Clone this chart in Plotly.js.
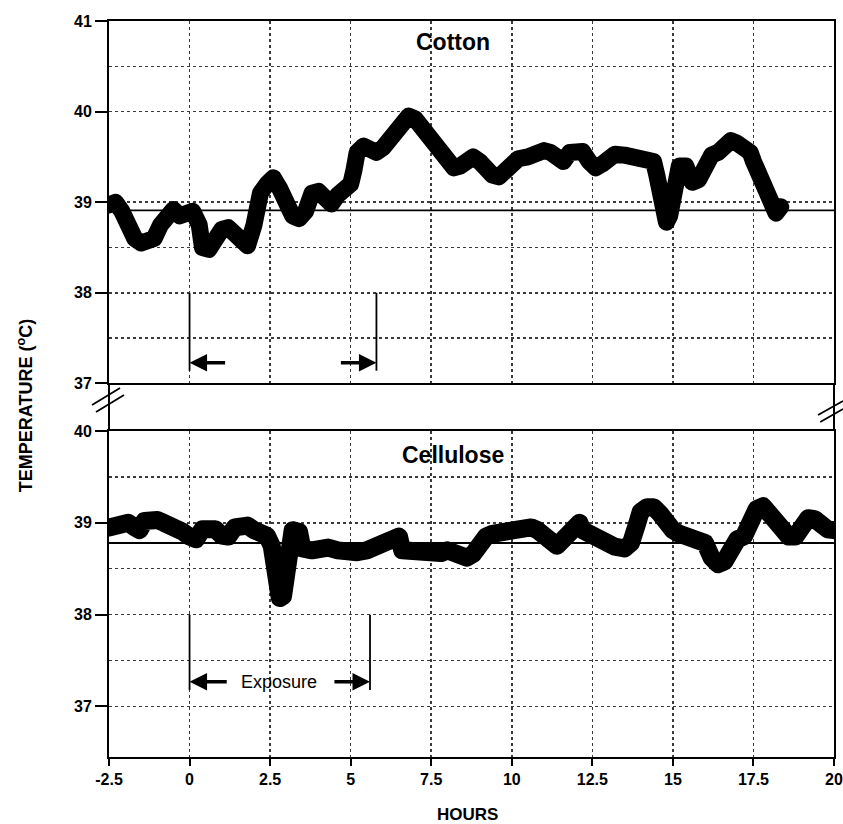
<!DOCTYPE html>
<html>
<head>
<meta charset="utf-8">
<script src="https://cdn.plot.ly/plotly-3.0.1.min.js"></script>
<style>
  html, body { margin: 0; padding: 0; background: #fff; }
  #chart { width: 843px; height: 824px; }
  .scatterlayer .js-line { stroke-linejoin: round !important; stroke-linecap: round !important; }
</style>
</head>
<body>
<div id="chart"></div>
<script>
// ---- Data ----
const xTickVals = [-2.5, 0, 2.5, 5, 7.5, 10, 12.5, 15, 17.5, 20];
const xTickText = ['-2.5', '0', '2.5', '5', '7.5', '10', '12.5', '15', '17.5', '20'];

const cottonTickVals = [37, 38, 39, 40, 41];
const celluloseTickVals = [37, 38, 39, 40];

const cottonHours = [-2.5,-2.3,-2.1,-1.9,-1.7,-1.5,-1.3,-1.1,-0.9,-0.7,-0.5,-0.3,-0.1,0.1,0.3,0.4,0.6,0.8,1.0,1.2,1.4,1.6,1.8,2.0,2.2,2.4,2.6,2.8,3.0,3.2,3.4,3.6,3.8,4.0,4.2,4.4,4.6,4.8,5.0,5.1,5.2,5.4,5.6,5.8,6.0,6.2,6.4,6.6,6.8,7.0,7.2,7.4,7.6,7.8,8.0,8.2,8.4,8.6,8.8,9.0,9.2,9.4,9.6,9.8,10.0,10.2,10.5,10.8,11.0,11.2,11.4,11.6,11.8,12.0,12.2,12.4,12.6,12.8,13.0,13.2,13.5,13.8,14.0,14.2,14.4,14.5,14.6,14.7,14.8,14.9,15.0,15.1,15.2,15.4,15.6,15.8,16.0,16.2,16.4,16.6,16.8,17.0,17.2,17.4,17.5,17.7,17.9,18.0,18.2,18.35];
const cottonTemp = [38.97,39.0,38.9,38.7,38.6,38.55,38.58,38.6,38.75,38.88,38.92,38.85,38.88,38.9,38.75,38.5,38.48,38.6,38.7,38.72,38.65,38.62,38.52,38.75,39.1,39.2,39.27,39.15,38.95,38.85,38.82,38.9,39.1,39.12,39.05,38.98,39.08,39.15,39.2,39.35,39.55,39.62,39.58,39.55,39.6,39.7,39.75,39.9,39.95,39.92,39.82,39.78,39.7,39.55,39.42,39.38,39.4,39.45,39.5,39.45,39.35,39.3,39.28,39.35,39.45,39.48,39.5,39.55,39.57,39.55,39.48,39.45,39.55,39.57,39.56,39.45,39.38,39.42,39.48,39.53,39.52,39.5,39.48,39.5,39.45,39.3,39.05,38.85,38.78,38.85,39.0,39.3,39.4,39.4,39.22,39.25,39.45,39.52,39.55,39.65,39.68,39.65,39.6,39.55,39.45,39.25,39.15,39.0,38.88,38.95];

const celluloseHours = [-2.5,-2.3,-2.1,-1.9,-1.7,-1.55,-1.4,-1.2,-1.0,-0.8,-0.6,-0.4,-0.2,0.0,0.2,0.4,0.6,0.8,1.0,1.2,1.4,1.6,1.8,2.0,2.2,2.4,2.55,2.7,2.8,2.9,3.0,3.05,3.2,3.4,3.5,3.8,4.0,4.3,4.6,4.9,5.2,5.5,5.8,6.0,6.2,6.4,6.5,6.6,7.0,7.4,7.8,8.0,8.2,8.4,8.6,8.8,9.0,9.2,9.4,9.6,9.8,10.0,10.2,10.4,10.6,10.8,11.0,11.2,11.4,11.6,11.8,12.0,12.1,12.2,12.4,12.6,12.8,13.0,13.2,13.5,13.7,13.9,14.0,14.2,14.4,14.6,14.8,15.0,15.2,15.5,15.8,16.0,16.2,16.4,16.6,16.8,17.0,17.2,17.4,17.6,17.8,18.0,18.2,18.4,18.6,18.8,19.0,19.2,19.4,19.6,19.8,20.0];
const celluloseTemp = [38.95,38.98,39.0,39.0,38.95,38.92,39.02,39.05,39.03,39.0,38.98,38.93,38.9,38.85,38.82,38.93,38.95,38.93,38.86,38.85,38.95,38.98,38.97,38.92,38.88,38.86,38.75,38.35,38.18,38.2,38.55,38.85,38.92,38.9,38.72,38.7,38.72,38.73,38.7,38.68,38.68,38.7,38.76,38.78,38.83,38.88,38.85,38.7,38.68,38.68,38.67,38.7,38.68,38.62,38.62,38.66,38.78,38.85,38.88,38.9,38.92,38.9,38.93,38.94,38.95,38.92,38.85,38.8,38.75,38.82,38.92,38.98,39.0,38.92,38.88,38.85,38.84,38.78,38.74,38.72,38.78,39.0,39.12,39.17,39.17,39.1,38.98,38.92,38.88,38.86,38.82,38.78,38.62,38.55,38.58,38.75,38.82,38.85,39.05,39.15,39.18,39.1,38.95,38.87,38.85,38.85,38.98,39.05,39.04,38.95,38.93,38.92];

const baselineHours = [-2.5, 20];
const cottonBaseline = [38.91, 38.91];
const celluloseBaseline = [38.78, 38.78];

const exposureStart = 0;
const exposureEndCotton = 5.8;
const exposureEndCellulose = 5.6;

// ---- Styling ----
const FONT = 'Liberation Sans, Arial, Helvetica, sans-serif';
const gridStyle = { showgrid: true, gridcolor: '#3a3a3a', gridwidth: 1.5, griddash: 'dot' };

const traces = [
  { x: cottonHours, y: cottonTemp, xaxis: 'x2', yaxis: 'y2', mode: 'lines',
    line: { color: '#000', width: 17 }, hoverinfo: 'skip', showlegend: false },
  { x: baselineHours, y: cottonBaseline, xaxis: 'x2', yaxis: 'y2', mode: 'lines',
    line: { color: '#000', width: 1.8 }, hoverinfo: 'skip', showlegend: false },
  { x: celluloseHours, y: celluloseTemp, xaxis: 'x', yaxis: 'y', mode: 'lines',
    line: { color: '#000', width: 18 }, hoverinfo: 'skip', showlegend: false },
  { x: baselineHours, y: celluloseBaseline, xaxis: 'x', yaxis: 'y', mode: 'lines',
    line: { color: '#000', width: 1.8 }, hoverinfo: 'skip', showlegend: false }
];

const axisCommon = {
  showline: true, linecolor: '#000', linewidth: 2, mirror: true, zeroline: false
};

function bracketShapes(xr, yr, x0, x1, yTop, yBot) {
  return [
    { type: 'line', xref: xr, yref: yr, x0: x0, x1: x0, y0: yTop, y1: yBot, line: { color: '#000', width: 1.8 } },
    { type: 'line', xref: xr, yref: yr, x0: x1, x1: x1, y0: yTop, y1: yBot, line: { color: '#000', width: 1.8 } }
  ];
}
function arrow(xr, yr, head, tail, y) {
  return { xref: xr, yref: yr, axref: xr, ayref: yr, x: head, y: y, ax: tail, ay: y,
    showarrow: true, arrowhead: 2, arrowsize: 1, arrowwidth: 3.5, arrowcolor: '#000', text: '' };
}

const layout = {
  width: 843, height: 824,
  margin: { l: 109, r: 9, t: 21, b: 67 },
  paper_bgcolor: '#fff', plot_bgcolor: '#fff',
  font: { family: FONT, color: '#000' },
  showlegend: false,
  xaxis: Object.assign({}, axisCommon, gridStyle, {
    anchor: 'y', range: [-2.5, 20], tickmode: 'array', tickvals: xTickVals, ticktext: xTickText,
    ticks: 'outside', ticklen: 7, tickwidth: 2, tickcolor: '#000',
    tickfont: { family: FONT, size: 16, weight: 'bold', color: '#000' }
  }),
  xaxis2: Object.assign({}, axisCommon, gridStyle, {
    anchor: 'y2', matches: 'x', range: [-2.5, 20], tickmode: 'array', tickvals: xTickVals,
    showticklabels: false, ticks: ''
  }),
  yaxis: Object.assign({}, axisCommon, gridStyle, {
    domain: [0, 0.443], range: [36.45, 40], tickmode: 'array', tickvals: celluloseTickVals,
    ticks: 'outside', ticklen: 12, tickwidth: 2, tickcolor: '#000',
    tickfont: { family: FONT, size: 16, weight: 'bold', color: '#000' },
    minor: { tickmode: 'array', tickvals: [37.5, 38.5, 39.5], showgrid: true,
      gridcolor: '#3a3a3a', gridwidth: 1.5, griddash: 'dot', ticks: '' }
  }),
  yaxis2: Object.assign({}, axisCommon, gridStyle, {
    domain: [0.5075, 1], range: [37, 41], tickmode: 'array', tickvals: cottonTickVals,
    ticks: 'outside', ticklen: 12, tickwidth: 2, tickcolor: '#000',
    tickfont: { family: FONT, size: 16, weight: 'bold', color: '#000' },
    minor: { tickmode: 'array', tickvals: [37.5, 38.5, 40.5], showgrid: true,
      gridcolor: '#3a3a3a', gridwidth: 1.5, griddash: 'dot', ticks: '' }
  }),
  shapes: [
    { type: 'line', xref: 'paper', yref: 'paper', x0: 0, x1: 0, y0: 0.443, y1: 0.5075, line: { color: '#000', width: 2 } },
    { type: 'line', xref: 'paper', yref: 'paper', x0: 1, x1: 1, y0: 0.443, y1: 0.5075, line: { color: '#000', width: 2 } },
    { type: 'line', xref: 'paper', yref: 'paper', x0: -0.0234, y0: 0.4783, x1: 0.0152, y1: 0.5014, line: { color: '#000', width: 1.8 } },
    { type: 'line', xref: 'paper', yref: 'paper', x0: -0.0179, y0: 0.4688, x1: 0.0207, y1: 0.4918, line: { color: '#000', width: 1.8 } },
    { type: 'line', xref: 'paper', yref: 'paper', x0: 0.978, y0: 0.4647, x1: 1.0124, y1: 0.4837, line: { color: '#000', width: 1.8 } },
    { type: 'line', xref: 'paper', yref: 'paper', x0: 0.981, y0: 0.4552, x1: 1.0124, y1: 0.4728, line: { color: '#000', width: 1.8 } }
  ]
    .concat(bracketShapes('x2', 'y2', exposureStart, exposureEndCotton, 38, 37.14))
    .concat(bracketShapes('x', 'y', exposureStart, exposureEndCellulose, 38, 37.18)),
  annotations: [
    { xref: 'paper', yref: 'paper', x: 0.4745, y: 0.9715, text: 'Cotton', showarrow: false,
      xanchor: 'center', yanchor: 'middle', font: { family: FONT, size: 23, weight: 'bold', color: '#000' } },
    { xref: 'paper', yref: 'paper', x: 0.4745, y: 0.4103, text: 'Cellulose', showarrow: false,
      xanchor: 'center', yanchor: 'middle', font: { family: FONT, size: 23, weight: 'bold', color: '#000' } },
    { xref: 'paper', yref: 'paper', x: -0.1159, y: 0.478, text: 'TEMPERATURE (<sup>o</sup>C)', showarrow: false,
      textangle: -90, xanchor: 'center', yanchor: 'middle', font: { family: FONT, size: 18, weight: 'bold', color: '#000' } },
    { xref: 'paper', yref: 'paper', x: 0.494, y: -0.0788, text: 'HOURS', showarrow: false,
      xanchor: 'center', yanchor: 'middle', font: { family: FONT, size: 17, weight: 'bold', color: '#000' } },
    { xref: 'x', yref: 'y', x: 2.78, y: 37.27, text: 'Exposure', showarrow: false,
      xanchor: 'center', yanchor: 'middle', font: { family: FONT, size: 18, color: '#000' } },
    arrow('x2', 'y2', exposureStart, 1.15, 37.23),
    arrow('x2', 'y2', exposureEndCotton, 4.65, 37.23),
    arrow('x', 'y', exposureStart, 1.2, 37.27),
    arrow('x', 'y', exposureEndCellulose, 4.45, 37.27)
  ]
};

Plotly.newPlot('chart', traces, layout, { staticPlot: true, displayModeBar: false });
</script>
</body>
</html>
